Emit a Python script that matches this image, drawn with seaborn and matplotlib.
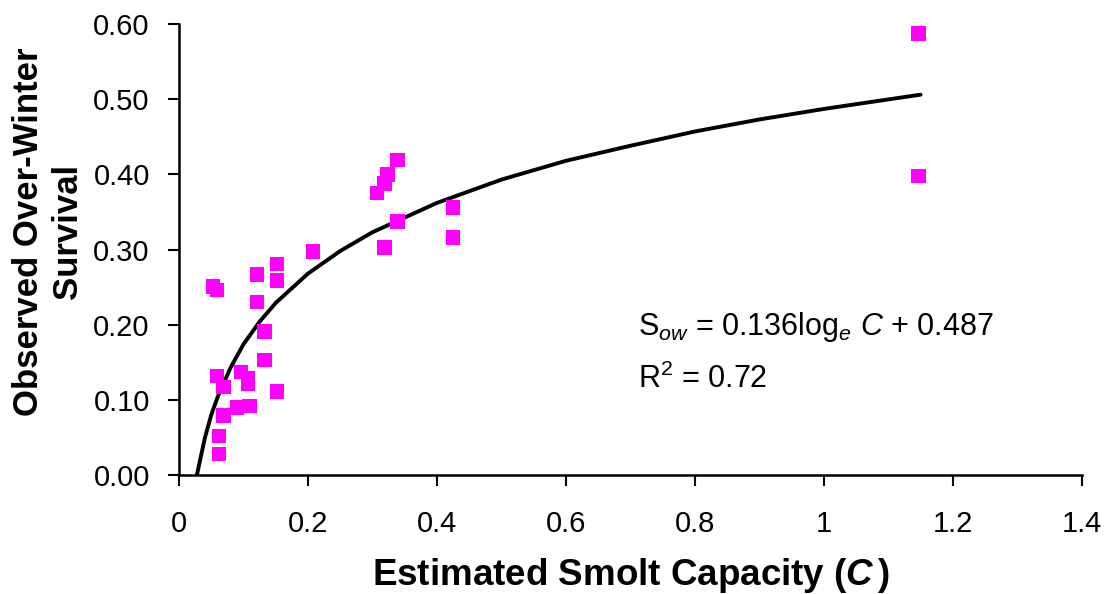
import pandas as pd
import seaborn as sns
import matplotlib.pyplot as plt

# observed points (estimated smolt capacity vs observed over-winter survival)
capacity = [0.053, 0.059, 0.121, 0.152, 0.152, 0.121, 0.133, 0.133, 0.059, 0.069,
            0.096, 0.107, 0.107, 0.152, 0.069, 0.090, 0.109, 0.062, 0.062, 0.208,
            0.339, 0.323, 0.319, 0.307, 0.339, 0.319, 0.425, 0.425, 1.147, 1.147]
survival = [0.251, 0.246, 0.267, 0.281, 0.259, 0.230, 0.191, 0.153, 0.132, 0.117,
            0.137, 0.129, 0.121, 0.111, 0.079, 0.090, 0.092, 0.052, 0.028, 0.297,
            0.419, 0.400, 0.388, 0.375, 0.337, 0.303, 0.356, 0.316, 0.587, 0.398]

# fitted trend line points (S = 0.136 ln C + 0.487)
fit_c = [0.028, 0.04, 0.05, 0.06, 0.08, 0.10, 0.125, 0.15, 0.20, 0.25, 0.30,
         0.40, 0.50, 0.60, 0.70, 0.80, 0.90, 1.00, 1.15]
fit_s = [0.001, 0.049, 0.080, 0.104, 0.143, 0.174, 0.204, 0.229, 0.268, 0.298, 0.323,
         0.362, 0.393, 0.418, 0.438, 0.457, 0.473, 0.487, 0.506]

x_ticks = [0, 0.2, 0.4, 0.6, 0.8, 1.0, 1.2, 1.4]
x_tick_labels = ['0', '0.2', '0.4', '0.6', '0.8', '1', '1.2', '1.4']
y_ticks = [0.0, 0.1, 0.2, 0.3, 0.4, 0.5, 0.6]

df = pd.DataFrame({'C': capacity, 'S': survival})
fit = pd.DataFrame({'C': fit_c, 'S': fit_s})

sns.set_style('ticks')
plt.rcParams['font.family'] = ['Liberation Sans', 'DejaVu Sans']
plt.rcParams['text.color'] = 'black'
plt.rcParams['axes.labelcolor'] = 'black'
plt.rcParams['mathtext.fontset'] = 'custom'
plt.rcParams['mathtext.rm'] = 'Liberation Sans'
plt.rcParams['mathtext.it'] = 'Liberation Sans:italic'
plt.rcParams['mathtext.bf'] = 'Liberation Sans:bold'
plt.rcParams['mathtext.bfit'] = 'Liberation Sans:bold:italic'

fig = plt.figure(figsize=(11.05, 5.94), dpi=100)
ax = fig.add_axes([0.162, 0.2003, 0.817, 0.7593])

sns.lineplot(data=fit, x='C', y='S', color='black', linewidth=2.8, ax=ax, zorder=2)
sns.scatterplot(data=df, x='C', y='S', marker='s', s=110, color='#FF00FF',
                edgecolor='none', linewidth=0, ax=ax, zorder=3)

ax.set_xlim(0, 1.4)
ax.set_ylim(0, 0.6)
ax.set_xticks(x_ticks)
ax.set_xticklabels(x_tick_labels)
ax.set_yticks(y_ticks)
ax.set_yticklabels([f'{v:.2f}' for v in y_ticks])
ax.tick_params(axis='both', labelsize=21, direction='out', length=8, width=1.5,
               colors='black')
ax.tick_params(axis='x', pad=17)
ax.tick_params(axis='y', pad=13)
for side in ['top', 'right']:
    ax.spines[side].set_visible(False)
for side in ['left', 'bottom']:
    ax.spines[side].set_linewidth(1.8)
    ax.spines[side].set_color('black')

ax.set_xlabel(r'Estimated Smolt Capacity ($\mathbfit{C}\,$)', fontsize=26.5,
              fontweight='bold', labelpad=13)
ax.set_ylabel('Observed Over-Winter\nSurvival', fontsize=25, fontweight='bold',
              linespacing=1.25)
ax.yaxis.label.set_va('center')
ax.yaxis.set_label_coords(-0.145, 0.539)

ax.text(0.508, 0.31, r'S$_{ow}$ = 0.136log$_{e}$ $C$ + 0.487', transform=ax.transAxes,
        fontsize=22, ha='left', va='baseline')
ax.text(0.508, 0.193, r'R$^{2}$ = 0.72', transform=ax.transAxes,
        fontsize=22, ha='left', va='baseline')

fig.savefig('out.png', dpi=100)
plt.close(fig)
